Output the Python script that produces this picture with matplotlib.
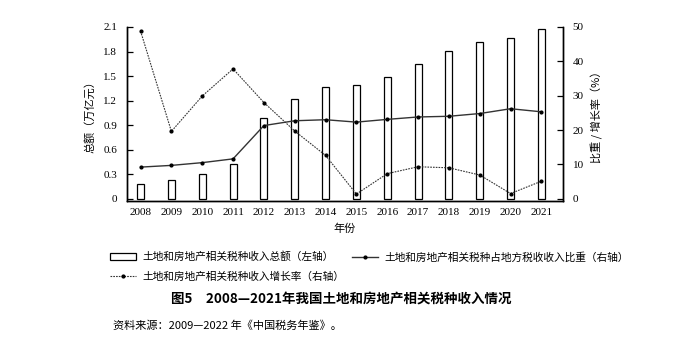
import matplotlib.pyplot as plt
import numpy as np

plt.rcParams['font.family'] = ['Liberation Serif', 'Noto Sans CJK SC', 'DejaVu Sans']

years = [2008, 2009, 2010, 2011, 2012, 2013, 2014, 2015, 2016, 2017, 2018, 2019, 2020, 2021]
total = [0.18, 0.23, 0.30, 0.425, 0.99, 1.22, 1.37, 1.39, 1.49, 1.65, 1.81, 1.915, 1.96, 2.07]
share = [9.2, 9.7, 10.5, 11.6, 21.3, 22.7, 23.0, 22.3, 23.1, 23.8, 24.0, 24.8, 26.2, 25.3]
growth = [48.8, 19.6, 29.9, 37.8, 28.0, 19.7, 12.6, 1.35, 7.3, 9.3, 9.0, 6.9, 1.5, 5.1]

left_ticks = [0, 0.3, 0.6, 0.9, 1.2, 1.5, 1.8, 2.1]
left_labels = ['0', '0.3', '0.6', '0.9', '1.2', '1.5', '1.8', '2.1']
right_ticks = [0, 10, 20, 30, 40, 50]

cjk = ['Noto Sans CJK SC', 'DejaVu Sans']

fig = plt.figure(figsize=(6.86, 3.51), dpi=100)
ax = fig.add_axes([127/686, 1 - 201/351, (563-127)/686, (201-27)/351])
ax2 = ax.twinx()

bars = ax.bar(years, total, width=0.23, color='white', edgecolor='black', linewidth=0.9, zorder=2)
l1, = ax2.plot(years, share, color='#333333', lw=1.0, marker='.', ms=4, mfc='black', mec='black')
l2, = ax2.plot(years, growth, color='#333333', lw=0.8, ls=(0, (1.5, 1)), marker='.', ms=4,
               mfc='black', mec='black')

ax.set_xlim(2007.56, 2021.70)
ax.set_ylim(-0.028, 2.1)
ax2.set_ylim(-0.67, 50)
ax.set_yticks(left_ticks)
ax.set_yticklabels(left_labels)
ax2.set_yticks(right_ticks)
ax.set_xticks(years)
ax.set_xticklabels([str(y) for y in years])

for a in (ax, ax2):
    a.spines['top'].set_visible(False)
    for s in a.spines.values():
        s.set_linewidth(1.0)
    a.tick_params(direction='in', length=4, width=0.9, labelsize=8)
ax.tick_params(axis='x', length=0, pad=5)
ax.tick_params(axis='y', pad=7)
ax2.tick_params(axis='y', pad=7)

ax.set_xlabel('年份', family=cjk, fontsize=8, labelpad=5)
ax.set_ylabel('总额（万亿元）', family=cjk, fontsize=8, labelpad=6)
ax2.set_ylabel('比重 / 增长率（%）', family=cjk, fontsize=8, rotation=90, labelpad=5)

leg = fig.legend([bars, l2, l1],
                 ['土地和房地产相关税种收入总额（左轴）', '土地和房地产相关税种收入增长率（右轴）',
                  '土地和房地产相关税种占地方税收收入比重（右轴）'],
                 ncol=2, loc='upper left', bbox_to_anchor=(100/686, 1 - 242/351),
                 frameon=False, prop={'family': cjk, 'size': 7.7},
                 handlelength=2.5, handletextpad=0.55, columnspacing=0.7, labelspacing=0.85)

fig.text(341/686, 1 - 300/351, '图5　2008—2021年我国土地和房地产相关税种收入情况',
         ha='center', va='center', family=cjk, fontsize=9.7, fontweight='bold')
fig.text(113/686, 1 - 326/351, '资料来源：2009—2022 年《中国税务年鉴》。',
         ha='left', va='center', family=cjk, fontsize=8)

fig.savefig('out.png', dpi=100)
